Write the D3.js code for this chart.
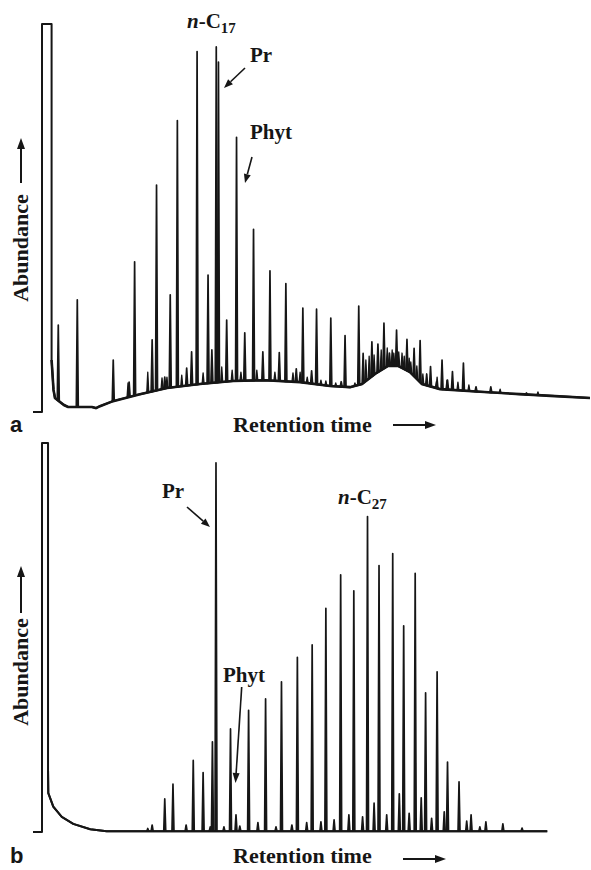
<!DOCTYPE html>
<html><head><meta charset="utf-8">
<script src="https://cdn.jsdelivr.net/npm/d3@7"></script>
<style>body{margin:0;background:#fff}svg{display:block}</style>
</head><body>
<svg id="chart" width="591" height="870"></svg>
<script>
// ---------- DATA (retention time 0-100, abundance 0-100) ----------
const solventA = [0, 1.75, 100];
const baselineA = [[1.75,13.4],[2.10,5.7],[2.37,3.6],[3.28,2.6],[4.01,1.8],[4.74,1.3],[9.12,1.3],[9.85,1.0],[10.58,1.5],[12.96,2.8],[17.88,4.6],[22.81,6.2],[28.83,7.2],[34.85,8.0],[40.69,8.2],[47.08,7.7],[52.55,6.7],[56.20,6.4],[58.39,7.2],[60.77,9.8],[63.14,11.9],[64.96,11.9],[67.15,10.3],[69.34,7.2],[72.63,5.9],[79.93,5.2],[87.23,4.6],[93.61,4.1],[100,3.6]];
const peaksA = [[2.97,22.4],[6.44,28.9],[13.0,13.4],[15.9,7.7],[16.9,38.7],[20.1,18.6],[20.9,58.5],[22.4,9.0],[23.4,30.2],[24.7,75.1],[26.4,11.3],[27.3,15.5],[28.3,92.9],[30.3,35.3],[31.0,16.0],[31.8,94.1],[32.2,90.2],[33.7,23.7],[35.5,70.8],[37.0,20.4],[38.6,47.1],[40.3,15.5],[41.6,36.4],[43.3,15.3],[44.5,33.1],[46.4,11.1],[47.6,26.8],[49.2,10.6],[50.1,26.5],[52.7,24.2],[54.6,7.8],[55.3,19.7],[57.8,27.3],[58.6,15.1],[60.2,18.1],[61.3,17.5],[62.4,22.9],[63.4,15.2],[64.7,21.1],[66.6,18.7],[67.9,16.4],[69.0,18.4],[70.2,9.8],[70.9,11.7],[72.0,7.8],[73.0,13.4],[74.0,8.2],[74.9,10.4],[76.9,12.6],[79.2,6.5],[81.9,6.5],[88.4,4.9]];
const minorPeaksA = [[15.7,7.5],[19.3,10.3],[21.9,8.8],[22.8,9.0],[25.5,9.5],[29.4,10.1],[32.8,11.6],[34.7,10.8],[36.3,10.3],[39.2,10.8],[42.5,10.3],[45.8,10.1],[47.1,10.3],[48.4,9.0],[50.9,8.2],[51.8,8.0],[53.6,7.5],[57.1,7.5],[59.1,13.4],[59.7,14.4],[60.6,14.7],[61.9,16.0],[63.0,16.5],[63.9,16.0],[64.2,15.2],[65.1,15.5],[65.7,15.2],[66.1,14.4],[67.0,13.9],[67.3,12.9],[68.4,11.9],[69.5,9.8],[72.1,9.0],[73.9,8.2],[75.9,7.7],[77.9,7.0],[83.6,5.9],[90.5,5.2]];

const solventB = [0, 1.1, 100];
const baselineB = [[1.1,15.9],[1.15,10.0],[2.06,6.5],[3.6,3.9],[5.7,2.1],[8.8,0.7],[11.8,0.2],[92.2,0.2]];
const peaksB = [[19.3,0.9],[20.1,1.8],[22.4,8.5],[23.9,12.3],[26.3,1.8],[27.6,18.4],[29.4,15.3],[30.7,1.3],[31.1,23.2],[31.75,94.9],[33.2,1.3],[34.4,26.5],[35.4,4.4],[36.1,1.5],[37.7,31.3],[39.4,2.4],[40.8,34.2],[42.7,1.3],[43.7,38.6],[45.6,1.8],[46.6,44.9],[48.3,2.4],[49.3,48.1],[50.9,2.6],[51.8,57.5],[53.3,3.1],[54.5,66.1],[56.0,4.4],[56.9,62.0],[58.5,3.9],[59.4,81.1],[60.6,7.4],[61.5,68.5],[62.9,4.4],[64.0,71.6],[65.2,9.8],[66.0,53.0],[67.0,4.8],[68.1,66.5],[69.2,8.8],[70.0,35.8],[71.1,3.5],[72.1,41.2],[73.4,5.2],[74.0,18.0],[76.1,12.9],[77.5,2.8],[78.3,4.4],[79.9,1.3],[81.0,2.6],[84.1,2.1],[87.6,1.0]];

const axisTitleX = "Retention time";
const axisTitleY = "Abundance";
const panelLetters = ["a", "b"];

// ---------- DRAWING ----------
const svg = d3.select("#chart");
const INK = "#161616";
const SERIF = "'Liberation Serif','Times New Roman',serif";

function arrow(x1, y1, x2, y2, len, half, sw) {
  const a = Math.atan2(y2 - y1, x2 - x1);
  const bx = x2 - len * Math.cos(a), by = y2 - len * Math.sin(a);
  svg.append("line").attr("x1", x1).attr("y1", y1).attr("x2", bx).attr("y2", by)
    .attr("stroke", INK).attr("stroke-width", sw);
  const px = -Math.sin(a) * half, py = Math.cos(a) * half;
  svg.append("path").attr("d", `M${x2},${y2}L${bx + px},${by + py}L${bx - px},${by - py}Z`).attr("fill", INK);
}

function panel(cfg) {
  const x = d3.scaleLinear().domain([0, 100]).range(cfg.xr);
  const y = d3.scaleLinear().domain([0, 100]).range(cfg.yr);
  const base = d3.scaleLinear().domain(cfg.baseline.map(d => d[0])).range(cfg.baseline.map(d => d[1])).clamp(true);
  const g = svg.append("g");
  const line = d3.line().x(d => x(d[0])).y(d => y(d[1]));
  const pts = [[0, 0], [0, cfg.solvent[2]], [cfg.solvent[1], cfg.solvent[2]]].concat(cfg.baseline);
  g.append("path").attr("d", `M${x(0) - 9},${y(0)}` + line(pts).replace(/^M/, "L"))
    .attr("fill", "none").attr("stroke", INK).attr("stroke-width", 2).attr("stroke-linejoin", "round");
  g.append("path").attr("d", line(cfg.baseline)).attr("fill", "none").attr("stroke", INK).attr("stroke-width", cfg.baseW);
  const w = 0.18;
  const peakPath = d => {
    const b0 = base(d[0] - w), b1 = base(d[0] + w);
    return `M${x(d[0] - w)},${y(b0)}L${x(d[0])},${y(d[1])}L${x(d[0] + w)},${y(b1)}Z`;
  };
  g.selectAll(null).data(cfg.minor).join("path").attr("d", peakPath)
    .attr("fill", INK).attr("stroke", INK).attr("stroke-width", 1.3).attr("stroke-linejoin", "round");
  g.selectAll(null).data(cfg.peaks).join("path").attr("d", peakPath)
    .attr("fill", INK).attr("stroke", INK).attr("stroke-width", 1.7).attr("stroke-linejoin", "round");
}

panel({xr: [42, 590], yr: [412, 24], solvent: solventA, baseline: baselineA, peaks: peaksA, minor: minorPeaksA, baseW: 2.6});
panel({xr: [42, 590], yr: [832, 443], solvent: solventB, baseline: baselineB, peaks: peaksB, minor: [], baseW: 2});

function txt(x, y, s, size, extra) {
  const t = svg.append("text").attr("x", x).attr("y", y).attr("font-family", SERIF)
    .attr("font-weight", "bold").attr("font-size", size).attr("fill", INK).text(s);
  if (extra) extra(t);
  return t;
}
function nC(x, y, sub) {
  const t = svg.append("text").attr("x", x).attr("y", y).attr("font-family", SERIF)
    .attr("font-weight", "bold").attr("font-size", 21).attr("fill", INK);
  t.append("tspan").attr("font-style", "italic").text("n");
  t.append("tspan").text("-C");
  t.append("tspan").attr("font-size", 15).attr("dy", 5).text(sub);
}

// panel a annotations
nC(187, 28, "17");
txt(250, 62, "Pr", 21);
arrow(245, 68, 224, 88, 9, 3.5, 1.6);
txt(250, 139, "Phyt", 21);
arrow(252, 157, 245, 183, 9, 3.5, 1.6);
// panel b annotations
txt(162, 498, "Pr", 21);
arrow(187, 507, 210, 527, 9, 3.5, 1.6);
txt(223, 682, "Phyt", 21);
arrow(241.7, 687, 235.5, 783, 10, 3.5, 1.6);
nC(338, 504, "27");

// axis titles, direction arrows, panel letters
[[248, 183, 138, 432, 425, 393, 436, 0], [672, 613, 566, 863, 859, 403, 446, 1]].forEach(p => {
  txt(0, 0, axisTitleY, 22, t => t.attr("text-anchor", "middle").attr("x", null).attr("y", null)
    .attr("transform", `translate(28,${p[0]}) rotate(-90)`));
  arrow(21, p[1], 21, p[2], 11, 4, 2);
  txt(233, p[3], axisTitleX, 22);
  arrow(p[5], p[4], p[6], p[4], 11, 4, 2);
  svg.append("text").attr("x", 10).attr("y", p[3]).attr("font-family", "'Liberation Sans',Arial,sans-serif")
    .attr("font-weight", "bold").attr("font-size", 22).attr("fill", INK).text(panelLetters[p[7]]);
});
</script>
</body></html>
